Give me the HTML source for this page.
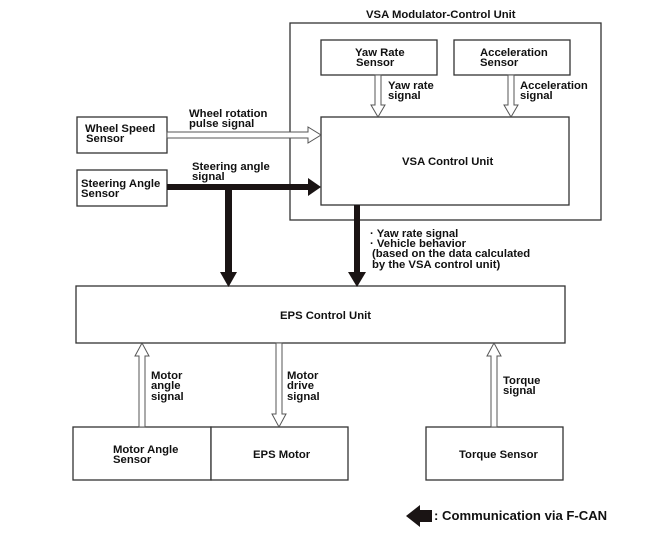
<!DOCTYPE html>
<html><head><meta charset="utf-8"><style>
html,body{margin:0;padding:0;background:#fff;}
svg{display:block;}
text{font-family:"Liberation Sans",Arial,sans-serif;font-weight:bold;font-size:11.3px;fill:#111;}
</style></head><body>
<svg width="658" height="549" viewBox="0 0 658 549" xmlns="http://www.w3.org/2000/svg">
<g fill="#fff" stroke="#333" stroke-width="1.3">
<rect x="290" y="23" width="311" height="197"/>
<rect x="321" y="40" width="116" height="35"/>
<rect x="454" y="40" width="116" height="35"/>
<rect x="321" y="117" width="248" height="88"/>
<rect x="77" y="117" width="90" height="36"/>
<rect x="77" y="170" width="90" height="36"/>
<rect x="76" y="286" width="489" height="57"/>
<rect x="73" y="427" width="138" height="53"/>
<rect x="211" y="427" width="137" height="53"/>
<rect x="426" y="427" width="137" height="53"/>
</g>
<g fill="#fff" stroke="#555" stroke-width="1">
<path d="M375,75 V105 H371 L378,117 L385,105 H381 V75 Z"/>
<path d="M508,75 V105 H504 L511,117 L518,105 H514 V75 Z"/>
<path d="M167,132 H308 V127 L321,135 L308,143 V138 H167 Z"/>
<path d="M139,427 V356 H135 L142,343 L149,356 H145 V427 Z"/>
<path d="M276,343 V414 H272 L279,427 L286,414 H282 V343 Z"/>
<path d="M491,427 V356 H487 L494,343 L501,356 H497 V427 Z"/>
</g>
<g fill="#1a1414">
<path d="M167,184 H308 V178 L321,187 L308,196 V190 H167 Z"/>
<rect x="225" y="187" width="7" height="86"/>
<path d="M220,272 H237 L228.5,287 Z"/>
<rect x="354" y="205" width="6" height="68"/>
<path d="M348,272 H366 L357,287 Z"/>
<path d="M420,510 H432 V522 H420 V527 L406,516 L420,505 Z"/>
</g>
<text x="366" y="18">VSA Modulator-Control Unit</text>
<text x="355" y="56">Yaw Rate</text><text x="356" y="66">Sensor</text>
<text x="480" y="56">Acceleration</text><text x="480" y="66">Sensor</text>
<text x="388" y="89">Yaw rate</text><text x="388" y="99">signal</text>
<text x="520" y="89">Acceleration</text><text x="520" y="99">signal</text>
<text x="402" y="165">VSA Control Unit</text>
<text x="189" y="117">Wheel rotation</text><text x="189" y="127">pulse signal</text>
<text x="85" y="132">Wheel Speed</text><text x="86" y="142">Sensor</text>
<text x="192" y="170">Steering angle</text><text x="192" y="180">signal</text>
<text x="81" y="187">Steering Angle</text><text x="81" y="197">Sensor</text>
<text x="370" y="237">· Yaw rate signal</text>
<text x="370" y="247">· Vehicle behavior</text>
<text x="372" y="257">(based on the data calculated</text>
<text x="372" y="268">by the VSA control unit)</text>
<text x="280" y="319">EPS Control Unit</text>
<text x="151" y="379">Motor</text><text x="151" y="389">angle</text><text x="151" y="400">signal</text>
<text x="287" y="379">Motor</text><text x="287" y="389">drive</text><text x="287" y="400">signal</text>
<text x="503" y="384">Torque</text><text x="503" y="394">signal</text>
<text x="113" y="453">Motor Angle</text><text x="113" y="463">Sensor</text>
<text x="253" y="458">EPS Motor</text>
<text x="459" y="458">Torque Sensor</text>
<text x="434" y="520" style="font-size:13.1px">: Communication via F-CAN</text>
</svg>
</body></html>
